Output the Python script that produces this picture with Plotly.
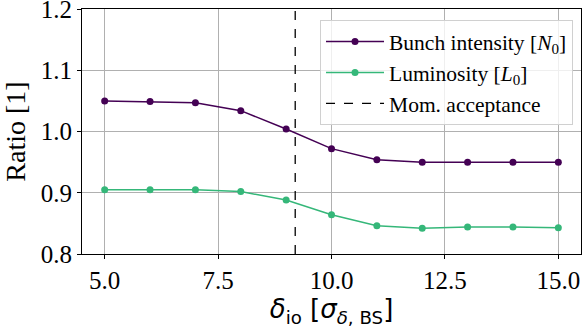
import plotly.graph_objects as go

delta_io = [5, 6, 7, 8, 9, 10, 11, 12, 13, 14, 15]
bunch_intensity = [1.050, 1.049, 1.047, 1.034, 1.004, 0.972, 0.954, 0.950, 0.950, 0.950, 0.950]
luminosity = [0.905, 0.905, 0.905, 0.902, 0.888, 0.864, 0.846, 0.842, 0.844, 0.844, 0.843]
mom_acceptance = 9.2
x_ticks = [5.0, 7.5, 10.0, 12.5, 15.0]
y_ticks = [0.8, 0.9, 1.0, 1.1, 1.2]

purple = "#440154"
green = "#35b779"
serif = "Liberation Serif"
tickfont = dict(family=serif, size=25, color="black")

fig = go.Figure()
fig.add_trace(go.Scatter(x=delta_io, y=bunch_intensity, mode="lines+markers",
                         name="Bunch intensity [<i>N</i><sub>0</sub>]",
                         line=dict(color=purple, width=1.5), marker=dict(size=7, color=purple)))
fig.add_trace(go.Scatter(x=delta_io, y=luminosity, mode="lines+markers",
                         name="Luminosity [<i>L</i><sub>0</sub>]",
                         line=dict(color=green, width=1.5), marker=dict(size=7, color=green)))
fig.add_shape(type="line", xref="x", yref="paper", x0=mom_acceptance, x1=mom_acceptance, y0=0, y1=1,
              line=dict(color="black", width=1.3, dash="dash"), showlegend=True,
              name="Mom. acceptance", layer="above")

fig.update_layout(
    width=587, height=328,
    margin=dict(l=82, r=6, t=9, b=74),
    plot_bgcolor="white", paper_bgcolor="white",
    font=dict(family=serif, size=22, color="black"),
    showlegend=True,
    legend=dict(x=0.984, y=0.955, xanchor="right", yanchor="top",
                bgcolor="rgba(255,255,255,0.8)", bordercolor="#d0d0d0", borderwidth=1,
                font=dict(family=serif, size=21.5), tracegroupgap=0, itemwidth=58),
    xaxis=dict(range=[4.5, 15.5], tickvals=x_ticks, ticktext=[f"{v:.1f}" for v in x_ticks],
               tickfont=tickfont, automargin=False,
               showgrid=True, gridcolor="#b0b0b0", gridwidth=1,
               showline=True, linecolor="black", linewidth=1.2, mirror=True,
               ticks="outside", ticklen=4, tickcolor="black", zeroline=False,
               ticklabeloverflow="allow",
               title=dict(text="<i>δ</i><sub>io</sub> [<i>σ</i><sub><i>δ</i>, BS</sub>]",
                          font=dict(family="DejaVu Sans", size=26), standoff=4)),
    yaxis=dict(range=[0.8, 1.2], tickvals=y_ticks, ticktext=[f"{v:.1f}" for v in y_ticks],
               tickfont=tickfont, automargin=False,
               showgrid=True, gridcolor="#b0b0b0", gridwidth=1,
               showline=True, linecolor="black", linewidth=1.2, mirror=True,
               ticks="outside", ticklen=4, tickcolor="black", zeroline=False,
               ticklabeloverflow="allow",
               title=dict(text="Ratio [1]", font=dict(family=serif, size=28), standoff=6)),
)

fig.write_html("out.html")
